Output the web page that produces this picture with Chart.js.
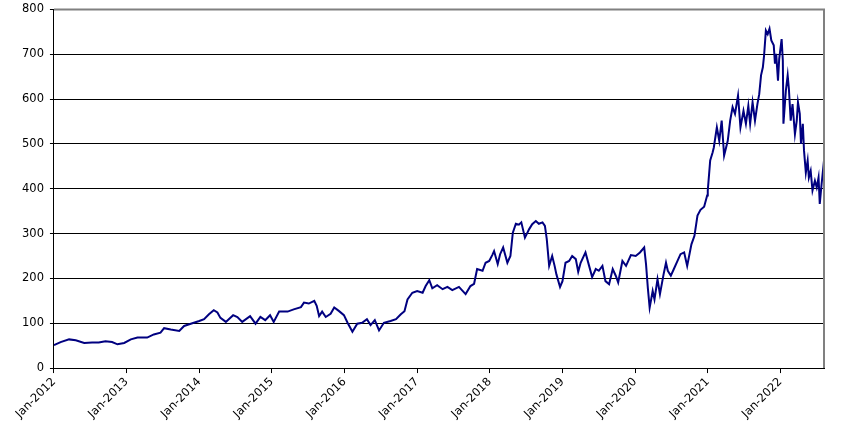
<!DOCTYPE html>
<html>
<head>
<meta charset="utf-8">
<script src="https://cdn.jsdelivr.net/npm/chart.js@4.4.0/dist/chart.umd.min.js"></script>
<style>
    html, body { margin: 0; padding: 0; background: #fff; }
    #wrap { width: 848px; height: 439px; }
</style>
</head>
<body>
<div id="wrap"><canvas id="chart1" width="848" height="439"></canvas></div>
<script>
// months since Jan-2012
const months = [
    0.0, 1.1, 2.5, 3.6, 5.0, 6.3, 7.4, 8.5, 9.6, 10.5, 11.6, 12.7, 13.8, 15.4, 16.5, 17.6, 18.2, 19.3, 20.7, 21.5,
    22.6, 24.0, 24.8, 25.6, 26.4, 27.0, 27.5, 28.4, 29.6, 30.3, 31.1, 32.4, 33.3, 34.1, 34.9, 35.7, 36.3, 37.2, 38.6, 39.6,
    40.8, 41.3, 42.1, 43.0, 43.4, 43.8, 44.3, 44.9, 45.7, 46.3, 47.1, 47.9, 48.5, 49.3, 50.1, 50.9, 51.7, 52.3, 53.0, 53.7,
    54.5, 55.6, 56.5, 57.3, 57.9, 58.4, 59.2, 60.0, 60.9, 61.4, 62.0, 62.5, 63.3, 64.2, 65.0, 65.8, 66.9, 68.0, 68.8, 69.4,
    69.9, 70.8, 71.3, 71.9, 72.4, 72.7, 73.3, 73.7, 74.2, 74.9, 75.4, 75.8, 76.3, 76.8, 77.2, 77.8, 78.5, 79.0, 79.6, 80.1,
    80.7, 81.1, 81.4, 81.8, 82.3, 82.7, 83.0, 83.6, 84.0, 84.5, 85.1, 85.6, 86.2, 86.6, 87.0, 87.8, 88.4, 88.9, 89.5, 90.0,
    90.6, 91.1, 91.7, 92.3, 92.8, 93.2, 93.9, 94.5, 95.3, 96.1, 96.8, 97.5, 97.8, 98.1, 98.4, 98.9, 99.2, 99.7, 100.1, 100.7,
    101.1, 101.4, 101.9, 102.4, 103.0, 103.5, 104.1, 104.6, 105.3, 105.8, 106.3, 106.8, 107.4, 107.9, 108.0, 108.4, 108.8, 109.0, 109.5, 109.9,
    110.3, 110.7, 111.3, 111.7, 112.1, 112.5, 113.0, 113.4, 113.9, 114.3, 114.7, 115.0, 115.4, 115.8, 116.2, 116.5, 116.8, 117.1, 117.3, 117.6,
    117.9, 118.2, 118.5, 118.9, 119.1, 119.3, 119.6, 119.8, 120.2, 120.4, 120.5, 120.9, 121.2, 121.4, 121.7, 122.0, 122.4, 122.7, 122.9, 123.2,
    123.4, 123.7, 123.9, 124.2, 124.5, 124.7, 125.0, 125.3, 125.7, 126.0, 126.3, 126.5, 126.8, 127.2
];
const prices = [
    51, 58, 64, 62, 56, 57, 57, 60, 58, 53, 56, 64, 68, 68, 75, 79, 89, 86, 83, 94,
    99, 105, 109, 120, 129, 124, 112, 103, 118, 114, 103, 116, 99, 114, 107, 118, 103, 126, 126, 131,
    136, 146, 144, 150, 139, 116, 126, 114, 121, 135, 127, 118, 101, 81, 99, 101, 109, 96, 107, 84,
    101, 105, 109, 120, 127, 153, 168, 172, 168, 183, 196, 178, 185, 176, 181, 174, 181, 165, 183, 188,
    221, 217, 235, 239, 252, 261, 232, 254, 269, 235, 250, 302, 322, 320, 325, 291, 310, 321, 328, 322,
    325, 317, 288, 228, 250, 228, 209, 181, 194, 235, 239, 250, 243, 215, 235, 258, 228, 203, 221, 217,
    228, 194, 187, 221, 206, 191, 239, 228, 252, 250, 258, 269, 232, 179, 135, 172, 153, 198, 165, 209,
    235, 217, 206, 221, 239, 254, 258, 228, 276, 295, 340, 353, 360, 385, 396, 463, 481, 492, 537, 507,
    552, 474, 507, 552, 582, 567, 608, 537, 574, 545, 585, 545, 593, 552, 589, 611, 653, 671, 697, 753,
    745, 757, 731, 720, 679, 701, 641, 690, 734, 686, 545, 619, 653, 623, 552, 589, 522, 552, 593, 567,
    500, 545, 485, 436, 463, 425, 440, 396, 418, 403, 425, 366, 410, 463
];
const yearTicks = ['Jan-2012', 'Jan-2013', 'Jan-2014', 'Jan-2015', 'Jan-2016', 'Jan-2017',
    'Jan-2018', 'Jan-2019', 'Jan-2020', 'Jan-2021', 'Jan-2022'];
const yTicks = [0, 100, 200, 300, 400, 500, 600, 700, 800];

// grey frame on top and right of the plot, like the original
const frame = {
    id: 'frame',
    afterDraw(chart) {
        const a = chart.chartArea;
        const c = chart.ctx;
        c.save();
        c.strokeStyle = '#808080';
        c.lineWidth = 2;
        c.beginPath();
        c.moveTo(a.left, a.top);
        c.lineTo(a.right, a.top);
        c.lineTo(a.right, a.bottom);
        c.stroke();
        c.restore();
    }
};

const ctx = document.getElementById('chart1').getContext('2d');
new Chart(ctx, {
    type: 'line',
    data: {
        datasets: [{
            data: months.map((m, i) => ({ x: m, y: prices[i] })),
            borderColor: '#000080',
            borderWidth: 2,
            pointRadius: 0,
            tension: 0,
            fill: false
        }]
    },
    options: {
        responsive: false,
        animation: false,
        layout: { padding: { left: 16, top: 9, right: 24, bottom: 16 } },
        scales: {
            x: {
                type: 'linear',
                min: 0,
                max: 127.2,
                afterBuildTicks: axis => {
                    axis.ticks = yearTicks.map((t, i) => ({ value: i * 12 }));
                },
                ticks: {
                    autoSkip: false,
                    maxRotation: 45,
                    minRotation: 45,
                    padding: 2,
                    callback: v => yearTicks[Math.round(v / 12)],
                    font: { size: 11.5, family: 'DejaVu Sans' },
                    color: '#000'
                },
                grid: { drawOnChartArea: false, drawTicks: true, tickLength: 5, color: '#000' },
                border: { color: '#000', width: 1 }
            },
            y: {
                min: 0,
                max: 800,
                afterBuildTicks: axis => {
                    axis.ticks = yTicks.map(v => ({ value: v }));
                },
                ticks: {
                    padding: 6,
                    font: { size: 11.5, family: 'DejaVu Sans', lineHeight: 0.6 },
                    color: '#000'
                },
                grid: { color: '#000', lineWidth: 1, tickLength: 4 },
                border: { color: '#000', width: 1 }
            }
        },
        plugins: {
            legend: { display: false },
            tooltip: { enabled: false }
        }
    },
    plugins: [frame]
});
</script>
</body>
</html>
